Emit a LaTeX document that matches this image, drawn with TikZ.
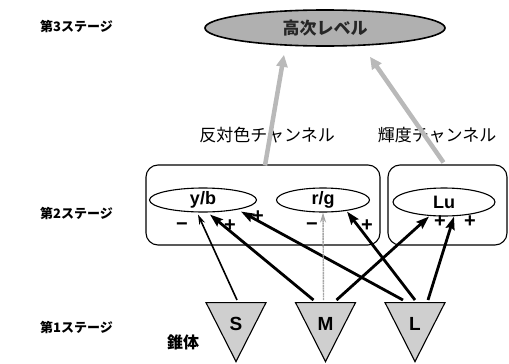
\documentclass[tikz,border=0pt]{standalone}
\usepackage{fontspec}
\setmainfont{Liberation Sans}
\newfontfamily\jp{Noto Sans CJK JP}
\usetikzlibrary{shapes.geometric,arrows.meta,calc}
\begin{document}
\begin{tikzpicture}[x=1pt,y=-1pt,
  stagelbl/.style={anchor=west, inner sep=0, font=\jp\bfseries\fontsize{13}{13}\selectfont},
  chlbl/.style={inner sep=0, font=\jp\fontsize{17}{17}\selectfont},
  cell/.style={draw, ellipse, line width=1.1pt, fill=white, inner sep=0, minimum height=24pt, font=\bfseries\fontsize{18}{18}\selectfont},
  stagebox/.style={draw, rounded corners=12pt, line width=1.1pt, inner sep=0, minimum height=80pt},
  cone/.style={draw, fill=gray!38, line width=1.1pt, isosceles triangle, shape border rotate=270, isosceles triangle stretches, minimum width=60pt, minimum height=59pt, inner sep=0},
  conelbl/.style={inner sep=0, font=\bfseries\fontsize{19}{19}\selectfont},
  strong/.style={line width=2.8pt, -{Stealth[length=13pt,width=9pt,inset=2pt]}},
  weak/.style={line width=1.6pt, -{Stealth[length=10pt,width=6pt,fill=gray!45]}},
  faint/.style={line width=1.4pt, draw=gray!70, dash pattern=on 2pt off 0.6pt, -{Stealth[length=10pt,width=6pt,fill=gray!45,color=gray!70]}},
  upward/.style={line width=4.5pt, draw=gray!55, -{Stealth[length=12pt,width=11pt,inset=0pt]}},
  sign/.style={inner sep=0, font=\bfseries\fontsize{20}{20}\selectfont}
]
\useasboundingbox (0,0) rectangle (509,364);

% stage labels
\node[stagelbl] (st3) at (40,26) {第3ステージ};
\node[stagelbl] (st2) at (40,213) {第2ステージ};
\node[stagelbl] (st1) at (40,327) {第1ステージ};

% stage 3
\node[draw, ellipse, line width=1.6pt, fill=gray!62, inner sep=0, minimum width=240pt, minimum height=36pt,
      font=\jp\bfseries\fontsize{17}{17}\selectfont, text=black!85] (hl) at (325,28) {高次レベル};

% channel labels
\node[chlbl] (opp) at (267,135) {反対色チャンネル};
\node[chlbl] (lum) at (437,135) {輝度チャンネル};

% stage 2 boxes
\node[stagebox, minimum width=234pt] (box1) at (263,205) {};
\node[stagebox, minimum width=119pt] (box2) at (447.5,205) {};

\node[cell, minimum width=107pt] (yb) at (203,200) {y/b};
\node[cell, minimum width=93pt] (rg) at (323,200) {r/g};
\node[cell, minimum width=102pt, minimum height=28pt] (lu) at (444,202) {Lu};

% cones
\node[cone, anchor=apex] (S) at (236,363) {};
\node[cone, anchor=apex] (M) at (325.5,363) {};
\node[cone, anchor=apex] (L) at (415,363) {};
\node[conelbl] (Sl) at (236,324) {S};
\node[conelbl] (Ml) at (325.5,324) {M};
\node[conelbl] (Ll) at (415,324) {L};
\node[inner sep=0, font=\jp\bfseries\fontsize{16}{16}\selectfont] (cone) at (183,342) {錐体};

% upward arrows to stage 3
\draw[upward] ($(box1.north)+(2,1)$) -- ($(hl.south)+(-41,8)$);
\draw[upward] ($(box2.north)+(-4,-2)$) -- ($(hl.south)+(45,10)$);

% cone connections
\draw[weak] ($(S.north)+(1,-2)$) -- ($(yb.south)+(-5,2)$);
\draw[strong] ($(M.north)+(-12,-2)$) -- ($(yb.south)+(7,2)$);
\draw[strong] ($(L.north)+(-12,-2)$) -- ($(yb.south)+(38,-1)$);
\draw[faint] ($(M.north)+(-2,-2)$) -- ($(rg.south)+(0,0)$);
\draw[strong] ($(L.north)+(0,-2)$) -- ($(rg.south)+(24,-1)$);
\draw[strong] ($(M.north)+(11,-2)$) -- ($(lu.south)+(-15,0)$);
\draw[strong] ($(L.north)+(13,-2)$) -- ($(lu.south)+(10,0)$);

% signs
\node[sign] (s1) at (182,227) {−};
\node[sign] (s2) at (230,226) {+};
\node[sign] (s3) at (258,217) {+};
\node[sign] (s4) at (312,227) {−};
\node[sign] (s5) at (367,226) {+};
\node[sign] (s6) at (440,222) {+};
\node[sign] (s7) at (470,222) {+};
\end{tikzpicture}
\end{document}
